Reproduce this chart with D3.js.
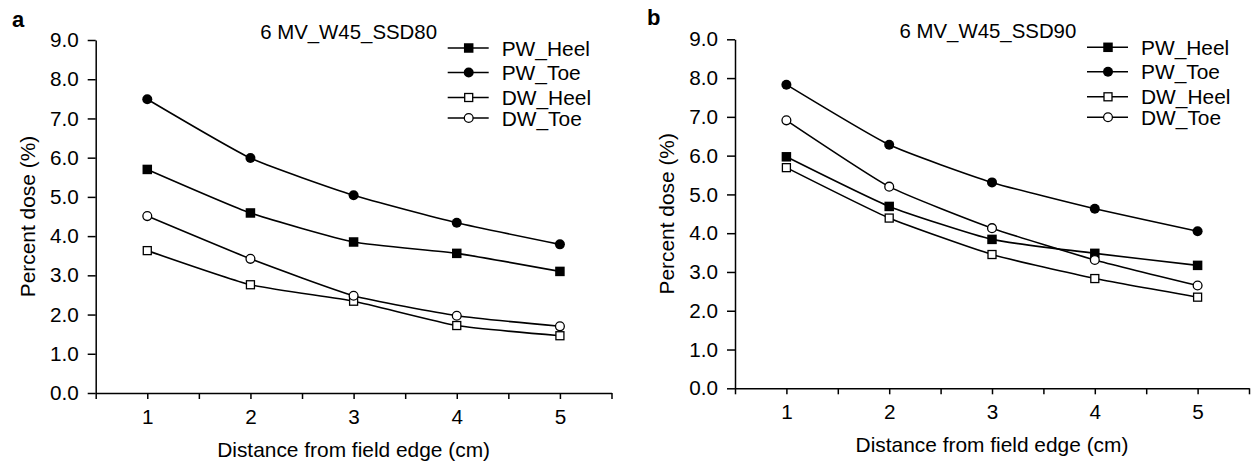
<!DOCTYPE html>
<html>
<head>
<meta charset="utf-8">
<script src="https://cdn.jsdelivr.net/npm/d3@7"></script>
<style>
  body { margin: 0; background: #fff; }
  svg { display: block; font-family: "Liberation Sans", Arial, sans-serif; }
  .axis text { font-size: 20.7px; fill: #000; }
  .axis line, .axis path { stroke: #000; stroke-width: 1.5; }
</style>
</head>
<body>
<div id="chart"></div>
<script>
// distances from field edge (cm)
const distances = [1, 2, 3, 4, 5];
const yTicks = [0, 1, 2, 3, 4, 5, 6, 7, 8, 9];
const seriesNames = ["PW_Heel", "PW_Toe", "DW_Heel", "DW_Toe"];

// panel a: 6 MV_W45_SSD80
const ssd80PwHeel = [5.70, 4.59, 3.85, 3.56, 3.10];
const ssd80PwToe = [7.49, 5.99, 5.04, 4.34, 3.79];
const ssd80DwHeel = [3.63, 2.76, 2.34, 1.72, 1.46];
const ssd80DwToe = [4.51, 3.42, 2.48, 1.97, 1.70];

// panel b: 6 MV_W45_SSD90
const ssd90PwHeel = [5.97, 4.69, 3.84, 3.48, 3.17];
const ssd90PwToe = [7.83, 6.28, 5.31, 4.63, 4.05];
const ssd90DwHeel = [5.69, 4.39, 3.45, 2.83, 2.35];
const ssd90DwToe = [6.91, 5.20, 4.13, 3.31, 2.65];

const width = 1253;
const height = 462;

const svg = d3
  .select("#chart")
  .append("svg")
  .attr("width", width)
  .attr("height", height)
  .attr("viewBox", [0, 0, width, height]);

// marker style per series: filled square, filled circle, open square, open circle
const markers = {
  PW_Heel: { shape: "square", fill: "#000" },
  PW_Toe: { shape: "circle", fill: "#000" },
  DW_Heel: { shape: "square", fill: "#fff" },
  DW_Toe: { shape: "circle", fill: "#fff" },
};

function drawMarker(g, name, cx, cy) {
  const m = markers[name];
  const open = m.fill === "#fff";
  if (m.shape === "square") {
    const s = open ? 8 : 9.5;
    g.append("rect")
      .attr("x", cx - s / 2)
      .attr("y", cy - s / 2)
      .attr("width", s)
      .attr("height", s)
      .attr("fill", m.fill)
      .attr("stroke", "#000")
      .attr("stroke-width", open ? 1.3 : 0);
  } else {
    g.append("circle")
      .attr("cx", cx)
      .attr("cy", cy)
      .attr("r", open ? 4.4 : 5)
      .attr("fill", m.fill)
      .attr("stroke", "#000")
      .attr("stroke-width", open ? 1.3 : 0);
  }
}

function drawPanel(opts) {
  const { letter, letterX, letterY, title, values, x0, x1, yBottom, yTop } = opts;

  const x = d3.scaleLinear().domain([0.5, 5.5]).range([x0, x1]);
  const y = d3.scaleLinear().domain([0, 9]).range([yBottom, yTop]);

  const g = svg.append("g");

  // panel letter
  g.append("text")
    .attr("x", letterX)
    .attr("y", letterY)
    .attr("font-size", 22)
    .attr("font-weight", "bold")
    .text(letter);

  // x axis: ticks every 0.5, labels only on whole cm
  g.append("g")
    .attr("class", "axis")
    .attr("transform", `translate(0,${yBottom})`)
    .call(
      d3
        .axisBottom(x)
        .tickValues(d3.range(0.5, 5.51, 0.5))
        .tickFormat((d) => (Number.isInteger(d) ? d : ""))
        .tickSize(6)
        .tickPadding(10)
        .tickSizeOuter(0)
    );

  // y axis
  g.append("g")
    .attr("class", "axis")
    .attr("transform", `translate(${x0},0)`)
    .call(
      d3
        .axisLeft(y)
        .tickValues(yTicks)
        .tickFormat(d3.format(".1f"))
        .tickSize(8)
        .tickPadding(9)
        .tickSizeOuter(0)
    );

  // axis titles
  g.append("text")
    .attr("x", (x0 + x1) / 2)
    .attr("y", yBottom + 63.5)
    .attr("text-anchor", "middle")
    .attr("font-size", 20.9)
    .text("Distance from field edge (cm)");

  g.append("text")
    .attr("transform", `translate(${x0 - 61},${(yBottom + yTop) / 2}) rotate(-90)`)
    .attr("text-anchor", "middle")
    .attr("font-size", 20.9)
    .text("Percent dose (%)");

  // chart title
  g.append("text")
    .attr("x", x0 + 164.5)
    .attr("y", yTop - 1)
    .attr("font-size", 20.4)
    .text(title);

  // lines
  const line = d3
    .line()
    .x((d, i) => x(distances[i]))
    .y((d) => y(d))
    .curve(d3.curveCardinal.tension(0.5));

  seriesNames.forEach((name, k) => {
    g.append("path")
      .attr("d", line(values[k]))
      .attr("fill", "none")
      .attr("stroke", "#000")
      .attr("stroke-width", 1.6);
  });

  seriesNames.forEach((name, k) => {
    values[k].forEach((v, i) => drawMarker(g, name, x(distances[i]), y(v)));
  });

  // legend
  const legendRows = [8, 32.5, 57.5, 78];
  seriesNames.forEach((name, k) => {
    const ly = yTop + legendRows[k];
    g.append("line")
      .attr("x1", x0 + 352)
      .attr("x2", x0 + 393)
      .attr("y1", ly)
      .attr("y2", ly)
      .attr("stroke", "#000")
      .attr("stroke-width", 1.6);
    drawMarker(g, name, x0 + 373, ly);
    g.append("text")
      .attr("x", x0 + 406)
      .attr("y", ly)
      .attr("dy", "0.36em")
      .attr("font-size", 20.9)
      .text(name);
  });
}

drawPanel({
  letter: "a",
  letterX: 12,
  letterY: 27,
  title: "6 MV_W45_SSD80",
  values: [ssd80PwHeel, ssd80PwToe, ssd80DwHeel, ssd80DwToe],
  x0: 95.7,
  x1: 611.5,
  yBottom: 393,
  yTop: 40,
});

drawPanel({
  letter: "b",
  letterX: 647,
  letterY: 25,
  title: "6 MV_W45_SSD90",
  values: [ssd90PwHeel, ssd90PwToe, ssd90DwHeel, ssd90DwToe],
  x0: 735,
  x1: 1249,
  yBottom: 388.3,
  yTop: 39.3,
});
</script>
</body>
</html>
